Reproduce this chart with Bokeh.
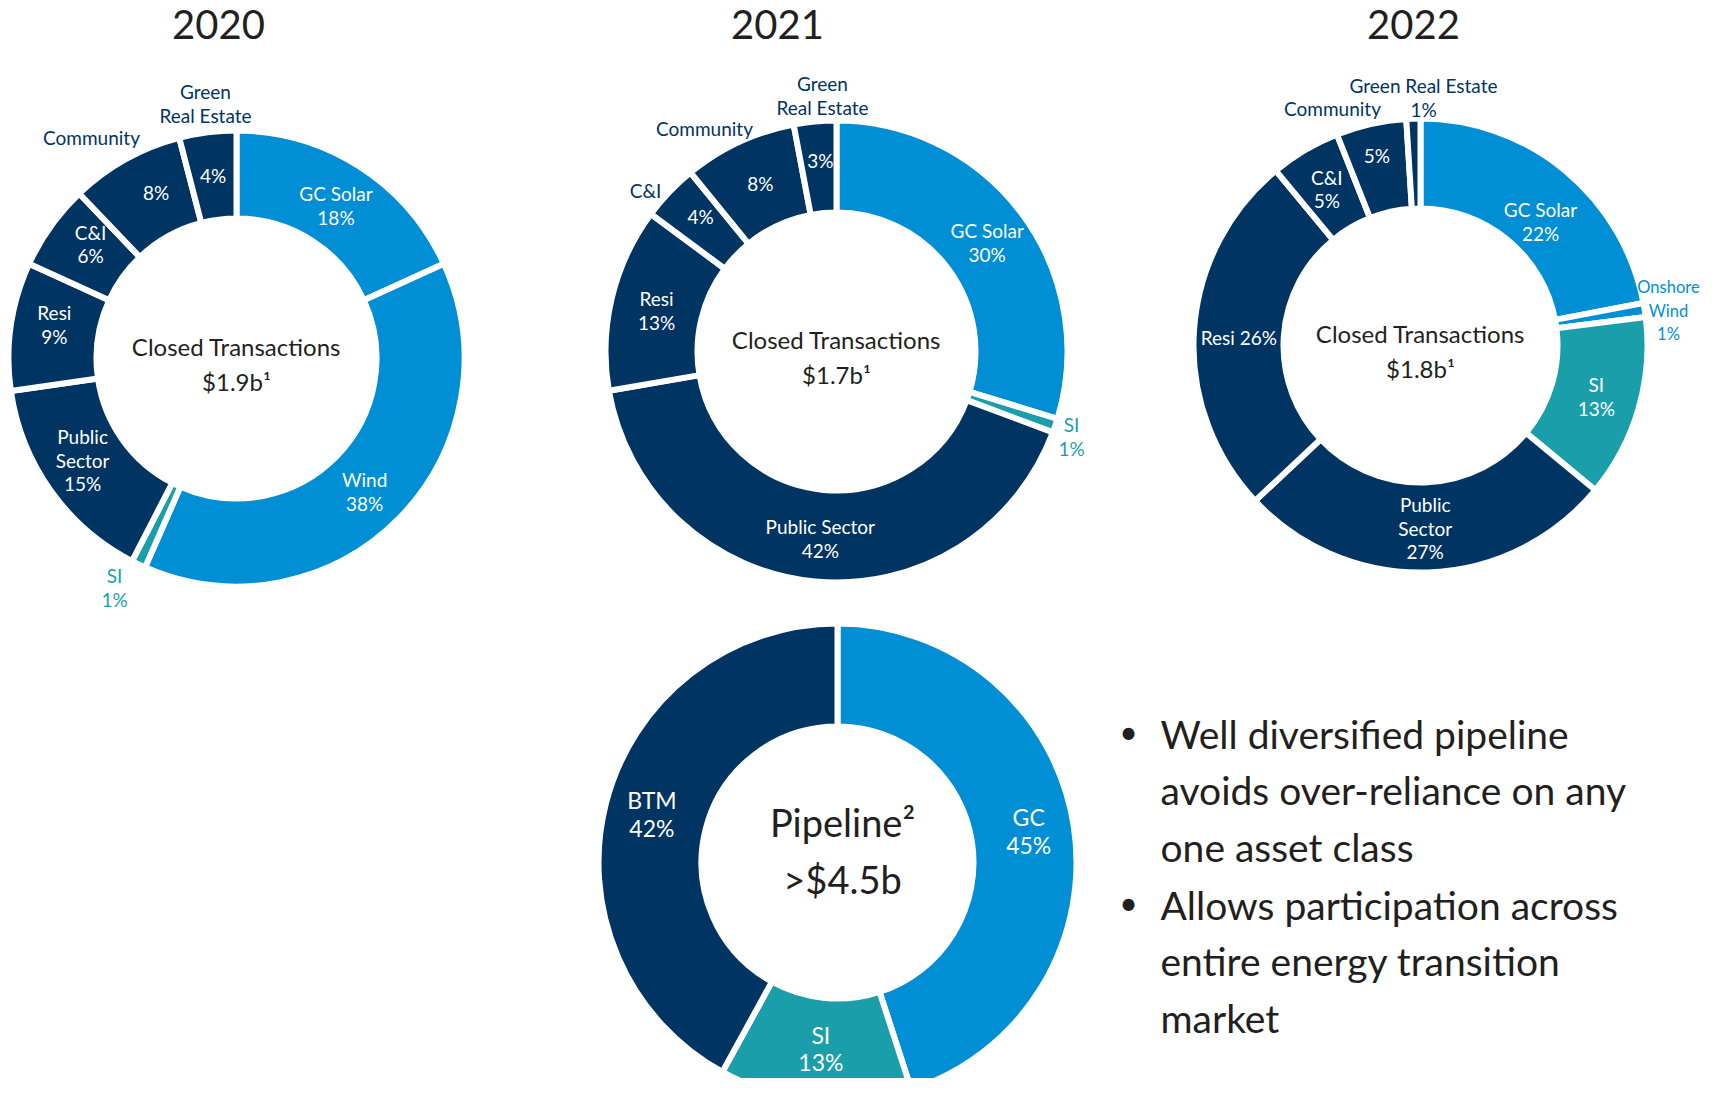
import math
from bokeh.plotting import figure
from bokeh.models import Range1d, ColumnDataSource
from bokeh.core.properties import value
from bokeh.embed import file_html
from bokeh.resources import INLINE

# ---------------- data ----------------
years = ["2020", "2021", "2022"]
closed_totals = ["$1.9b\u00b9", "$1.7b\u00b9", "$1.8b\u00b9"]

cats_2020 = ["GC Solar", "Wind", "SI", "Public Sector", "Resi", "C&I", "Community", "Green Real Estate"]
pct_2020 = [18, 38, 1, 15, 9, 6, 8, 4]

cats_2021 = ["GC Solar", "SI", "Public Sector", "Resi", "C&I", "Community", "Green Real Estate"]
pct_2021 = [30, 1, 42, 13, 4, 8, 3]

cats_2022 = ["GC Solar", "Onshore Wind", "SI", "Public Sector", "Resi", "C&I", "Community", "Green Real Estate"]
pct_2022 = [22, 1, 13, 27, 26, 5, 5, 1]

cats_pipeline = ["GC", "SI", "BTM"]
pct_pipeline = [45, 13, 42]
pipeline_title = "Pipeline\u00b2"
pipeline_total = ">$4.5b"

bullet_lines = [
    ["Well diversified pipeline", "avoids over-reliance on any", "one asset class"],
    ["Allows participation across", "entire energy transition", "market"],
]

# ---------------- styles ----------------
NAVY = "#003462"
BLUE = "#008ED4"
TEAL = "#1A9FAA"
DARK = "#231F20"
FONT = "Lato"

def seg_color(cat):
    if cat in ("GC Solar", "Wind", "Onshore Wind", "GC"):
        return BLUE
    if cat == "SI":
        return TEAL
    return NAVY

IMG_W, IMG_H = 1721, 1094
M = 8
W, H = IMG_W - 2 * M, IMG_H - 2 * M

p = figure(width=W, height=H, output_backend="svg", toolbar_location=None,
           x_range=Range1d(0, W), y_range=Range1d(IMG_H - H, IMG_H),
           x_axis_type=None, y_axis_type=None, min_border=0)
p.outline_line_color = None
p.grid.visible = False
p.background_fill_color = "white"
p.border_fill_color = "white"

def Y(y_img):
    return IMG_H - y_img

GAP = 6

def text(x, y, s, size, color, align="center"):
    p.text(x=[x], y=[Y(y)], text=[s], text_align=align, text_baseline="middle",
           text_font=value(FONT), text_font_size=f"{size}px", text_color=color)

def block(x, y, lines, size, color, spacing):
    n = len(lines)
    for i, s in enumerate(lines):
        text(x, y + (i - (n - 1) / 2) * spacing, s, size, color)

def donut(cx, cy, r_out, r_in, cats, vals):
    tot = float(sum(vals))
    starts, ends, mids = [], [], []
    cum = 0.0
    for v in vals:
        a0 = math.pi / 2 - 2 * math.pi * cum / tot
        cum += v
        a1 = math.pi / 2 - 2 * math.pi * cum / tot
        starts.append(a0)
        ends.append(a1)
        mids.append((a0 + a1) / 2)
    src = ColumnDataSource(dict(x=[cx] * len(vals), y=[Y(cy)] * len(vals),
                                start=starts, end=ends,
                                color=[seg_color(c) for c in cats]))
    p.annular_wedge(x="x", y="y", inner_radius=r_in - GAP / 2, outer_radius=r_out + GAP / 2,
                    start_angle="start", end_angle="end", direction="clock",
                    fill_color="color", line_color="white", line_width=GAP, source=src)
    return mids

def place_labels(cx, cy, r_out, r_in, cats, mids, specs, size, spacing):
    rm = (r_out + r_in) / 2
    for spec in specs:
        idx, lines, where = spec[:3]
        sz = spec[3] if len(spec) > 3 else size
        if where[0] == "mid":
            x = cx + rm * math.cos(mids[idx]) + where[1]
            y = cy - rm * math.sin(mids[idx]) + where[2]
            color = "white"
        else:
            x, y = where[1], where[2]
            color = seg_color(cats[idx])
        block(x, y, lines, sz, color, spacing)

# ---------------- closed transactions donuts ----------------
charts = [
    dict(year=years[0], cats=cats_2020, vals=pct_2020, c=(236, 358), ro=225, ri=143, title_x=218,
         total=closed_totals[0],
         labels=[
             (0, ["GC Solar", "18%"], ("mid", 0, 2)),
             (1, ["Wind", "38%"], ("mid", -3, 4)),
             (2, ["SI", "1%"], ("at", 114, 587)),
             (3, ["Public", "Sector", "15%"], ("mid", -4, -5)),
             (4, ["Resi", "9%"], ("mid", 0, -8)),
             (5, ["C&I", "6%"], ("mid", 4, -8)),
             (6, ["8%"], ("mid", 9, -5)),
             (6, ["Community"], ("at", 91, 137)),
             (7, ["4%"], ("mid", 0, 0)),
             (7, ["Green", "Real Estate"], ("at", 205, 103)),
         ]),
    dict(year=years[1], cats=cats_2021, vals=pct_2021, c=(836, 351), ro=228, ri=142, title_x=777,
         total=closed_totals[1],
         labels=[
             (0, ["GC Solar", "30%"], ("mid", 2, 1)),
             (1, ["SI", "1%"], ("at", 1071, 436)),
             (2, ["Public Sector", "42%"], ("mid", 1, 3)),
             (3, ["Resi", "13%"], ("mid", 0, 2)),
             (4, ["4%"], ("mid", -2, -7)),
             (4, ["C&I"], ("at", 645, 190)),
             (5, ["8%"], ("mid", 2, 0)),
             (5, ["Community"], ("at", 704, 128)),
             (6, ["3%"], ("mid", 1, -7)),
             (6, ["Green", "Real Estate"], ("at", 822, 95)),
         ]),
    dict(year=years[2], cats=cats_2022, vals=pct_2022, c=(1420, 345), ro=224, ri=140, title_x=1413,
         total=closed_totals[2],
         labels=[
             (0, ["GC Solar", "22%"], ("mid", 4, 16)),
             (1, ["Onshore", "Wind", "1%"], ("at", 1668, 310), 16.5),
             (2, ["SI", "13%"], ("mid", 1, 0)),
             (3, ["Public", "Sector", "27%"], ("mid", -1, 1)),
             (4, ["Resi 26%"], ("mid", 0, 3)),
             (5, ["C&I", "5%"], ("mid", -1, 0)),
             (6, ["5%"], ("mid", -4, -12)),
             (6, ["Community"], ("at", 1332, 108)),
             (7, ["Green Real Estate", "1%"], ("at", 1423, 97)),
         ]),
]

for ch in charts:
    cx, cy = ch["c"]
    mids = donut(cx, cy, ch["ro"], ch["ri"], ch["cats"], ch["vals"])
    place_labels(cx, cy, ch["ro"], ch["ri"], ch["cats"], mids, ch["labels"], 19, 23.5)
    text(ch["title_x"], 24, ch["year"], 40, DARK)
    text(cx, cy - 12, "Closed Transactions", 24, DARK)
    text(cx, cy + 23, ch["total"], 24, DARK)

# ---------------- pipeline donut ----------------
pcx, pcy, pro, pri = 837, 862, 236, 139
pmids = donut(pcx, pcy, pro, pri, cats_pipeline, pct_pipeline)
place_labels(pcx, pcy, pro, pri, cats_pipeline, pmids,
             [(0, ["GC", "45%"], ("mid", 6, -2)),
              (2, ["BTM", "42%"], ("mid", -4, -2))], 23, 28.5)
place_labels(pcx, pcy, pro, pri, cats_pipeline, pmids,
             [(1, ["SI", "13%"], ("mid", 1, -1))], 23, 27)
text(pcx + 5, 821, pipeline_title, 38, DARK)
text(pcx + 5, 878, pipeline_total, 38, DARK)

# ---------------- bullets ----------------
by = 733
for group in bullet_lines:
    text(1128, by - 2, "\u2022", 32, DARK)
    for s in group:
        text(1160, by, s, 39, DARK, align="left")
        by += 56.5
    by += 1.5

open("out.html", "w").write(file_html(p, INLINE))
